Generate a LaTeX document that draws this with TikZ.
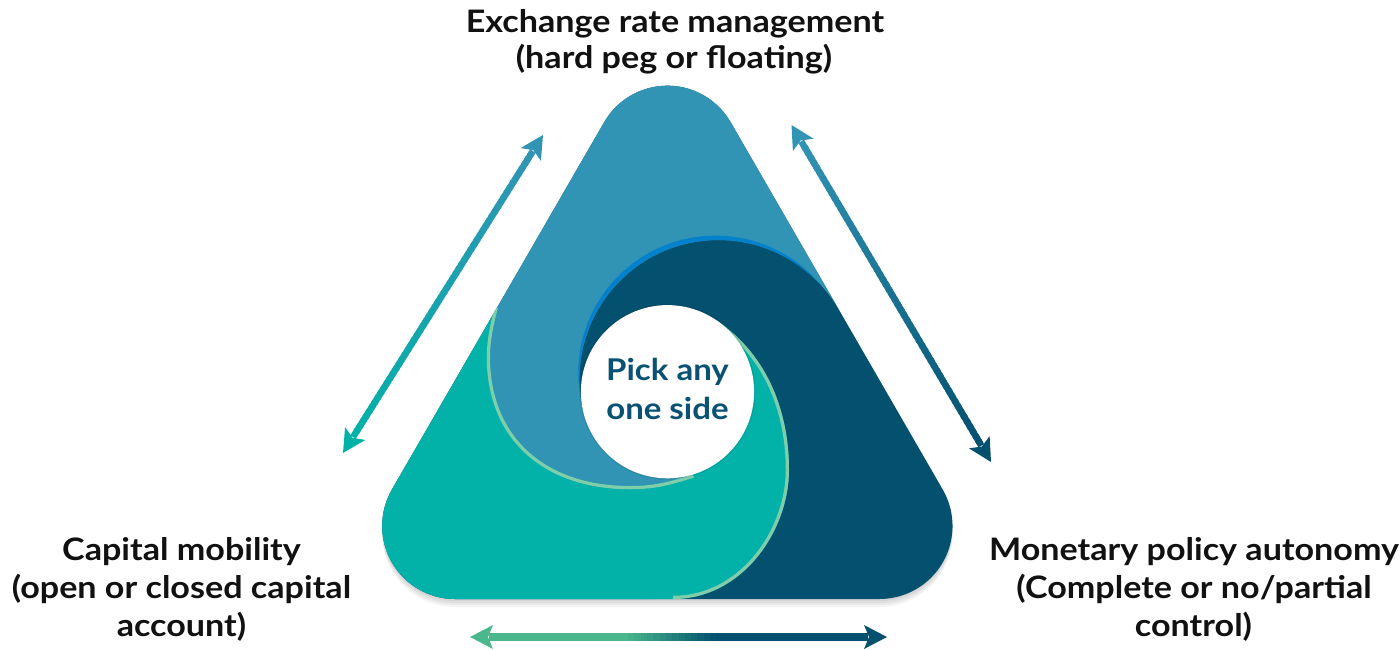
\documentclass[tikz,border=0pt]{standalone}
\usepackage{fontspec}
\setmainfont{Lato}[FakeStretch=1.1]
\usetikzlibrary{calc}

\definecolor{lblue}{HTML}{3194B4}
\definecolor{dblue}{HTML}{03506F}
\definecolor{tealc}{HTML}{02B1A8}
\definecolor{hiblue}{HTML}{0481CC}
\definecolor{higreen}{HTML}{7FCDAA}
\definecolor{arrgreen}{HTML}{4AB88C}
\definecolor{txt}{HTML}{111111}
\definecolor{midtxt}{HTML}{0A5273}

\tikzset{
  lab/.style={font=\bfseries\fontsize{31}{37}\selectfont, text=txt, anchor=base, inner sep=0pt},
  midlab/.style={font=\bfseries\fontsize{30}{36}\selectfont, text=midtxt, anchor=base, inner sep=0pt},
  band/.style={draw=higreen, line width=6.5pt},
}

% rounded triangle outline (corner centres Ac, Bc, Cc)
\newcommand\tripath{($(Ac)+(210:73)$) arc[start angle=210,end angle=330,radius=73]
  -- ($(Cc)+(330:73)$) arc[start angle=330,end angle=450,radius=73]
  -- ($(Bc)+(90:73)$) arc[start angle=90,end angle=210,radius=73] -- cycle}
% swirl edges of the teal piece
\newcommand\gcurve{(Gs) .. controls (769.8,356.2) and (789,415) .. (789,470)
  .. controls (789,530) and (743,599) .. (673,599)}
\newcommand\lcurve{(498,308) .. controls (494,322) and (490,340) .. (490,357)
  .. controls (490,437) and (545,486) .. (630,486)
  .. controls (655,486) and (669.1,481.9) .. (Le)}
\newcommand\tealpath{\gcurve -- (640,650) -- (250,680) -- (250,250) -- (460,287) -- \lcurve -- cycle}

% double arrow with a colour ramp: #1,#2 tips, #3,#4 colours, #5 shaft width, #6,#7 ramp limits
\newcommand\gradarrow[7]{%
  \coordinate (#1s) at ($(#1)!19pt!(#2)$);
  \coordinate (#2s) at ($(#2)!19pt!(#1)$);
  \foreach \k in {0,...,59}{%
    \pgfmathsetmacro\ta{\k/60}%
    \pgfmathsetmacro\tb{min(1,(\k+1.6)/60)}%
    \pgfmathsetmacro\tm{(\k+0.5)/60}%
    \pgfmathsetmacro\mix{100*min(1,max(0,(\tm-#6)/(#7-#6)))}%
    \draw[line width=#5, draw=#4!\mix!#3] ($(#1s)!\ta!(#2s)$) -- ($(#1s)!\tb!(#2s)$);
  }
  \fill[#3] (#1) -- ($(#1)!23pt!(#2)!12pt!90:(#2)$) -- ($(#1)!18pt!(#2)$)
    -- ($(#1)!23pt!(#2)!12pt!-90:(#2)$) -- cycle;
  \fill[#4] (#2) -- ($(#2)!23pt!(#1)!12pt!90:(#1)$) -- ($(#2)!18pt!(#1)$)
    -- ($(#2)!23pt!(#1)!12pt!-90:(#1)$) -- cycle;
}

\begin{document}
\begin{tikzpicture}[x=1pt,y=-1pt]
\useasboundingbox (0,0) rectangle (1400,649);

% geometry
\coordinate (Ac) at (667.4,158.7);
\coordinate (Bc) at (455.2,526);
\coordinate (Cc) at (879.5,526);
\coordinate (O) at (667.5,391.7);
\coordinate (Dc) at (718.4,379);
\coordinate (Dstart) at ($(Dc)+(166:139)$);
\coordinate (Gs) at ($(O)+(-56:86.6)$);
\coordinate (Le) at ($(O)+(72.9:86.6)$);

% soft shadow under the triangle
\foreach \s in {2,4,6,8}{
  \begin{scope}[transform canvas={yshift=-\s pt}]
    \fill[black,opacity=0.045] \tripath;
  \end{scope}
}

\begin{scope}
  \clip \tripath;
  % dark piece (base)
  \fill[dblue] (300,40) rectangle (1010,660);
  % light blue piece
  \fill[lblue] (O) -- (Dstart) arc[start angle=166,end angle=330,radius=139]
    -- ++(330:60) -- (1000,20) -- (300,20) -- (300,660) -- (600,700) -- (720,480) -- cycle;
  % bright edge above the dark piece
  \begin{scope}
    \clip (715.55,372.9) circle[radius=137.25];
    \fill[hiblue, even odd rule] (300,0) rectangle (1100,700) (Dc) circle[radius=139];
  \end{scope}
  % teal piece with its light edges
  \begin{scope}
    \clip \tealpath;
    \fill[tealc] (240,0) rectangle (1100,700);
    \draw[band] \gcurve;
    \draw[band] \lcurve;
  \end{scope}
\end{scope}

% centre disc
\fill[black,opacity=0.07] (O) circle[radius=88];
\fill[white] (O) circle[radius=86.6];
\node[midlab] (m1) at (667.5,380) {Pick any};
\node[midlab] (m2) at (667.5,419) {one side};

% arrows along the sides
\coordinate (la) at (343,453);
\coordinate (lb) at (543,135);
\coordinate (ra) at (791.5,125);
\coordinate (rb) at (991,462);
\coordinate (ba) at (470,637);
\coordinate (bb) at (887,637);
\gradarrow{la}{lb}{tealc}{lblue}{6.5pt}{0}{1}
\gradarrow{ra}{rb}{lblue}{dblue}{6.5pt}{0}{1}
\gradarrow{ba}{bb}{arrgreen}{dblue}{7.5pt}{0.36}{0.6}

% labels
\node[lab] (t1) at (675,32) {Exchange rate management};
\node[lab] (t2) at (674,68) {(hard peg or floating)};
\node[lab] (l1) at (181.5,560) {Capital mobility};
\node[lab] (l2) at (181.5,598) {(open or closed capital};
\node[lab] (l3) at (181.5,636) {account)};
\node[lab] (r1) at (1194,560) {Monetary policy autonomy};
\node[lab] (r2) at (1194,598) {(Complete or no/partial};
\node[lab] (r3) at (1193.5,636) {control)};
\end{tikzpicture}
\end{document}
